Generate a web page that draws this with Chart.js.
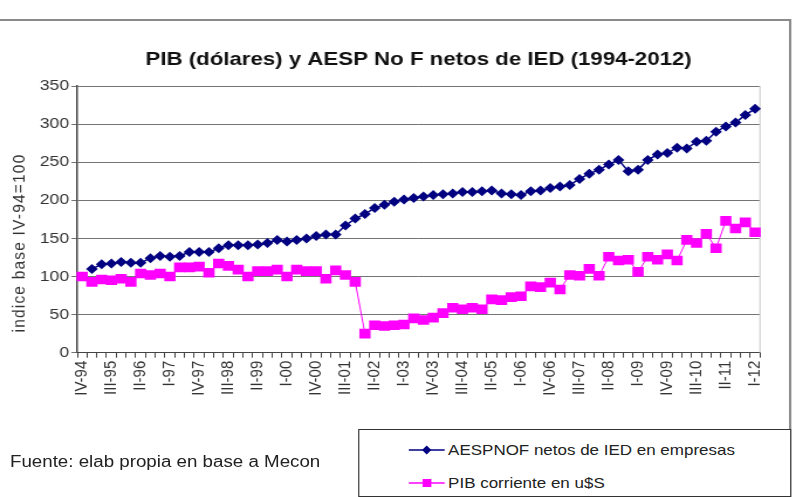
<!DOCTYPE html>
<html>
<head>
<meta charset="utf-8">
<script src="https://cdn.jsdelivr.net/npm/chart.js@4/dist/chart.umd.min.js"></script>
<style>
  body { margin: 0; background: #fff; overflow: hidden; }
  #wrap { position: relative; width: 680px; height: 497px; transform: scaleX(1.1706); transform-origin: 0 0; font-family: "Liberation Sans", Arial, sans-serif; color: #222; }
  #c { position: absolute; left: 0; top: 0; }
  .fuente { position: absolute; left: 8.5px; top: 453px; font-size: 16px; line-height: 18px; white-space: nowrap; }
  .legend { position: absolute; left: 305.8px; top: 429px; width: 368px; height: 66px; border: 1px solid #333; background: #fff; }
  .item { position: absolute; left: 42px; height: 18px; font-size: 14.5px; line-height: 18px; white-space: nowrap; }
  .item svg { position: absolute; left: 0; top: 3px; }
  .item span { position: absolute; left: 34px; top: 0; }
</style>
</head>
<body>
<div id="wrap">
  <canvas id="c" width="680" height="497"></canvas>
  <div class="fuente">Fuente: elab propia en base a Mecon</div>
  <div class="legend">
    <div class="item" style="top:11px">
      <svg width="31" height="12"><line x1="0" y1="6" x2="31" y2="6" stroke="#000080" stroke-width="1.5"/><polygon points="15.5,1.5 19.5,6 15.5,10.5 11.5,6" fill="#000080"/></svg>
      <span>AESPNOF netos de IED en empresas</span>
    </div>
    <div class="item" style="top:44px">
      <svg width="31" height="12"><line x1="0" y1="6" x2="31" y2="6" stroke="#FF00FF" stroke-width="1.5"/><rect x="12" y="2" width="7.5" height="8" fill="#FF00FF"/></svg>
      <span>PIB corriente en u$S</span>
    </div>
  </div>
</div>
<script>
// trimestres IV-94 ... I-12
const quarters = [
  "IV-94",
  "I-95", "II-95", "III-95", "IV-95",
  "I-96", "II-96", "III-96", "IV-96",
  "I-97", "II-97", "III-97", "IV-97",
  "I-98", "II-98", "III-98", "IV-98",
  "I-99", "II-99", "III-99", "IV-99",
  "I-00", "II-00", "III-00", "IV-00",
  "I-01", "II-01", "III-01", "IV-01",
  "I-02", "II-02", "III-02", "IV-02",
  "I-03", "II-03", "III-03", "IV-03",
  "I-04", "II-04", "III-04", "IV-04",
  "I-05", "II-05", "III-05", "IV-05",
  "I-06", "II-06", "III-06", "IV-06",
  "I-07", "II-07", "III-07", "IV-07",
  "I-08", "II-08", "III-08", "IV-08",
  "I-09", "II-09", "III-09", "IV-09",
  "I-10", "II-10", "III-10", "IV-10",
  "I-11", "II-11", "III-11", "IV-11",
  "I-12"
];

// AESPNOF netos de IED en empresas (indice IV-94=100)
const aespnof = [
  null, 110, 116, 117, 119, 118, 118, 124, 127, 126,
  127, 132, 132, 132, 137, 141, 141, 141, 142, 144,
  148, 146, 148, 150, 153, 155, 155, 167, 176, 182,
  190, 194, 198, 201, 203, 205, 207, 208, 209, 211,
  211, 212, 213, 209, 208, 207, 212, 213, 216, 218,
  220, 228, 235, 240, 247, 253, 238, 240, 253, 260,
  262, 269, 268, 277, 278, 290, 297, 302, 312, 320
];

// PIB corriente en u$S (indice IV-94=100)
const pib = [
  100, 93, 96, 95, 97, 93, 104, 102, 104, 100,
  112, 112, 113, 105, 117, 114, 109, 100, 107, 107,
  109, 100, 109, 107, 107, 97, 108, 102, 93, 25,
  36, 35, 36, 37, 45, 43, 46, 52, 59, 57,
  59, 57, 70, 69, 73, 74, 87, 86, 92, 83,
  102, 101, 110, 101, 126, 121, 122, 106, 126, 122,
  129, 121, 148, 144, 156, 137, 173, 163, 171, 158
];

const yTicks = [0, 50, 100, 150, 200, 250, 300, 350];
const yTitle = 'indice base IV-94=100';

const FONT = "'Liberation Sans', Arial, sans-serif";

// marco exterior, borde del area de grafico y titulo del eje Y
const framePlugin = {
  id: 'frame',
  beforeDatasetsDraw(chart) {
    const ctx = chart.ctx, a = chart.chartArea;
    ctx.save();
    ctx.strokeStyle = '#c8c8c8';
    ctx.lineWidth = 1;
    ctx.beginPath();
    ctx.moveTo(a.right, a.top);
    ctx.lineTo(a.right, a.bottom);
    ctx.stroke();
    ctx.restore();
  },
  afterDraw(chart) {
    const ctx = chart.ctx;
    ctx.save();
    ctx.strokeStyle = '#8a8a8a';
    ctx.lineWidth = 2;
    ctx.beginPath();
    ctx.moveTo(0, 20);
    ctx.lineTo(675, 20);
    ctx.lineTo(675, 497);
    ctx.stroke();

    // titulo del eje (Excel lo deja algo mas abajo del centro)
    ctx.translate(17, 243);
    ctx.rotate(-Math.PI / 2);
    ctx.fillStyle = '#333';
    ctx.font = "15.5px " + FONT;
    ctx.letterSpacing = '1.2px';
    ctx.textAlign = 'center';
    ctx.textBaseline = 'middle';
    ctx.fillText(yTitle, 0, 0);
    ctx.restore();
  }
};

new Chart(document.getElementById('c').getContext('2d'), {
  type: 'line',
  data: {
    labels: quarters,
    datasets: [
      {
        label: 'AESPNOF netos de IED en empresas',
        data: aespnof,
        borderColor: '#000080',
        backgroundColor: '#000080',
        borderWidth: 1.5,
        pointStyle: 'rectRot',
        pointRadius: 5,
        pointBorderWidth: 0,
        tension: 0
      },
      {
        label: 'PIB corriente en u$S',
        data: pib,
        borderColor: '#FF00FF',
        backgroundColor: '#FF00FF',
        borderWidth: 1,
        pointStyle: 'rect',
        pointRadius: 6.8,
        pointBorderWidth: 0,
        tension: 0
      }
    ]
  },
  options: {
    responsive: false,
    animation: false,
    layout: { padding: { top: 20, right: 30.8, bottom: 84.3, left: 0 } },
    plugins: {
      legend: { display: false },
      tooltip: { enabled: false },
      title: {
        display: true,
        fullSize: false,
        text: 'PIB (dólares) y AESP No F netos de IED (1994-2012)',
        color: '#111',
        font: { family: FONT, size: 19, weight: 'bold' },
        padding: { top: 28, bottom: 15.2 }
      }
    },
    scales: {
      x: {
        type: 'category',
        offset: true,
        grid: { offset: true, drawOnChartArea: false, drawTicks: true, tickLength: 5, color: '#444' },
        border: { color: '#444', width: 1 },
        ticks: {
          autoSkip: false,
          minRotation: 90,
          maxRotation: 90,
          padding: 3,
          color: '#333',
          font: { family: FONT, size: 15 },
          callback: function (v, i) { return i % 3 === 0 ? this.getLabelForValue(v) : ''; }
        },
        afterFit: function (s) { s.height = 60; }
      },
      y: {
        min: 0,
        max: 350,
        afterBuildTicks: function (s) { s.ticks = yTicks.map(v => ({ value: v })); },
        grid: { color: '#747474', tickLength: 5 },
        border: { color: '#444', width: 1.5 },
        ticks: { color: '#333', padding: 2, font: { family: FONT, size: 15 } },
        afterFit: function (s) { s.width = 66; }
      }
    }
  },
  plugins: [framePlugin]
});
</script>
</body>
</html>
